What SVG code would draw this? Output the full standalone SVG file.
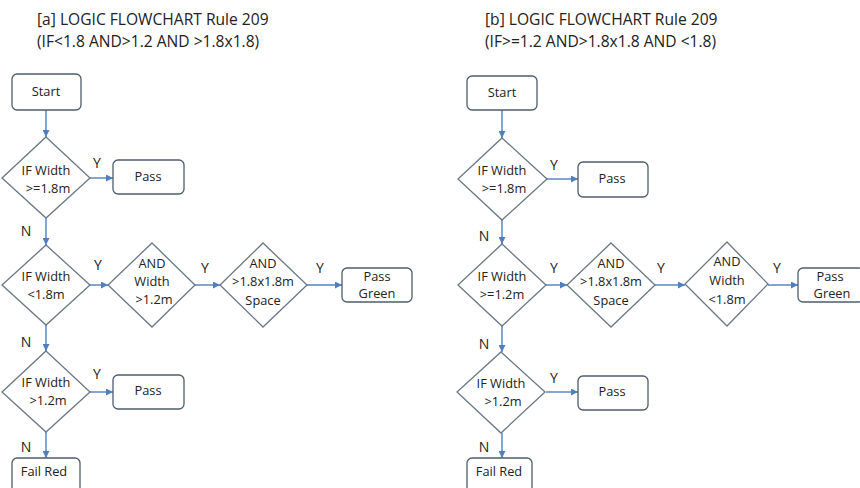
<svg xmlns="http://www.w3.org/2000/svg" width="860" height="488" viewBox="0 0 860 488">
<defs>
<style>
text{font-family:"Open Sans","Liberation Sans",sans-serif;fill:#222;}
.t{font-size:15.6px;}
.n{font-size:12.8px;text-anchor:middle;}
.l{font-size:14px;text-anchor:middle;}
.box{fill:#fff;stroke:#4e5d6e;stroke-width:1.3;}
.dia{fill:#fff;stroke:#6b7886;stroke-width:1.3;}
.c{stroke:#4f7fbf;stroke-width:1.4;fill:none;marker-end:url(#ah);}
</style>
<marker id="ah" viewBox="0 0 10 10" refX="10" refY="5" markerWidth="7" markerHeight="7" orient="auto" markerUnits="userSpaceOnUse">
<path d="M0,0 L10,5 L0,10 z" fill="#4f7fbf"/>
</marker>
</defs>
<rect width="860" height="488" fill="#fff"/>

<g id="titles">
<text class="t" x="37" y="25">[a] LOGIC FLOWCHART Rule 209</text>
<text class="t" x="37" y="47">(IF&lt;1.8 AND&gt;1.2 AND &gt;1.8x1.8)</text>
<text class="t" x="485" y="25">[b] LOGIC FLOWCHART Rule 209</text>
<text class="t" x="485" y="47">(IF&gt;=1.2 AND&gt;1.8x1.8 AND &lt;1.8)</text>
</g>

<g id="connectors">
<path class="c" d="M46,110 V137"/>
<path class="c" d="M90,178 H113"/>
<path class="c" d="M46,218 V245"/>
<path class="c" d="M90,285 H108"/>
<path class="c" d="M195,285 H220"/>
<path class="c" d="M307,285 H342"/>
<path class="c" d="M46,325 V351"/>
<path class="c" d="M90,392 H113"/>
<path class="c" d="M46,432 V458"/>
<path class="c" d="M502,110 V138"/>
<path class="c" d="M547,179 H578"/>
<path class="c" d="M502,220 V244"/>
<path class="c" d="M546,285 H567"/>
<path class="c" d="M655,285 H685"/>
<path class="c" d="M768,285 H798"/>
<path class="c" d="M502,326 V352"/>
<path class="c" d="M546,392 H578"/>
<path class="c" d="M502,433 V458"/>
</g>

<g id="labels">
<text class="l" x="97" y="168">Y</text>
<text class="l" x="26" y="236">N</text>
<text class="l" x="98" y="270">Y</text>
<text class="l" x="205" y="273">Y</text>
<text class="l" x="320" y="273">Y</text>
<text class="l" x="26" y="347">N</text>
<text class="l" x="97" y="379">Y</text>
<text class="l" x="26" y="452">N</text>
<text class="l" x="554" y="170">Y</text>
<text class="l" x="484" y="241">N</text>
<text class="l" x="554" y="273">Y</text>
<text class="l" x="661" y="273">Y</text>
<text class="l" x="777" y="273">Y</text>
<text class="l" x="484" y="349">N</text>
<text class="l" x="554" y="383">Y</text>
<text class="l" x="484" y="452">N</text>
</g>

<g id="a-start"><rect class="box" x="12" y="74" width="69" height="36" rx="5"/><text class="n" x="46" y="96">Start</text></g>
<g id="a-d1"><polygon class="dia" points="46,137 90,178 46,218 2,178"/><text class="n" x="46" y="175">IF Width</text><text class="n" x="48" y="193">&gt;=1.8m</text></g>
<g id="a-pass1"><rect class="box" x="113" y="160" width="71" height="34" rx="5"/><text class="n" x="148" y="181">Pass</text></g>
<g id="a-d2"><polygon class="dia" points="46,245 90,285 46,325 2,285"/><text class="n" x="46" y="281">IF Width</text><text class="n" x="46" y="299">&lt;1.8m</text></g>
<g id="a-d3"><polygon class="dia" points="152,243 195,285 152,327 108,285"/><text class="n" x="152" y="268">AND</text><text class="n" x="152" y="286">Width</text><text class="n" x="154" y="304">&gt;1.2m</text></g>
<g id="a-d4"><polygon class="dia" points="263,243 307,285 263,327 220,285"/><text class="n" x="263" y="268">AND</text><text class="n" x="263" y="286">&gt;1.8x1.8m</text><text class="n" x="263" y="305">Space</text></g>
<g id="a-green"><rect class="box" x="342" y="268" width="70" height="34" rx="5"/><text class="n" x="377" y="281">Pass</text><text class="n" x="377" y="298">Green</text></g>
<g id="a-d5"><polygon class="dia" points="46,351 90,392 46,432 2,392"/><text class="n" x="46" y="387">IF Width</text><text class="n" x="48" y="405">&gt;1.2m</text></g>
<g id="a-pass2"><rect class="box" x="113" y="375" width="71" height="34" rx="5"/><text class="n" x="148" y="395">Pass</text></g>
<g id="a-fail"><rect class="box" x="12" y="458" width="68" height="40" rx="5"/><text class="n" x="44" y="476">Fail Red</text></g>

<g id="b-start"><rect class="box" x="467" y="76" width="70" height="34" rx="5"/><text class="n" x="502" y="97">Start</text></g>
<g id="b-d1"><polygon class="dia" points="502,138 547,179 502,220 458,179"/><text class="n" x="502" y="175">IF Width</text><text class="n" x="504" y="193">&gt;=1.8m</text></g>
<g id="b-pass1"><rect class="box" x="578" y="162" width="70" height="35" rx="5"/><text class="n" x="612" y="183">Pass</text></g>
<g id="b-d2"><polygon class="dia" points="502,244 546,285 502,326 458,285"/><text class="n" x="502" y="281">IF Width</text><text class="n" x="502" y="299">&gt;=1.2m</text></g>
<g id="b-d3"><polygon class="dia" points="611,243 655,285 611,327 567,285"/><text class="n" x="611" y="268">AND</text><text class="n" x="611" y="286">&gt;1.8x1.8m</text><text class="n" x="611" y="305">Space</text></g>
<g id="b-d4"><polygon class="dia" points="727,242 768,284 727,326 685,284"/><text class="n" x="727" y="266">AND</text><text class="n" x="727" y="285">Width</text><text class="n" x="727" y="304">&lt;1.8m</text></g>
<g id="b-green"><rect class="box" x="798" y="268" width="66" height="34" rx="5"/><text class="n" x="830" y="281">Pass</text><text class="n" x="832" y="298">Green</text></g>
<g id="b-d5"><polygon class="dia" points="501,352 545,392 501,433 457,392"/><text class="n" x="501" y="388">IF Width</text><text class="n" x="503" y="406">&gt;1.2m</text></g>
<g id="b-pass2"><rect class="box" x="578" y="376" width="70" height="34" rx="5"/><text class="n" x="612" y="396">Pass</text></g>
<g id="b-fail"><rect class="box" x="467" y="458" width="65" height="40" rx="5"/><text class="n" x="499" y="476">Fail Red</text></g>
</svg>
